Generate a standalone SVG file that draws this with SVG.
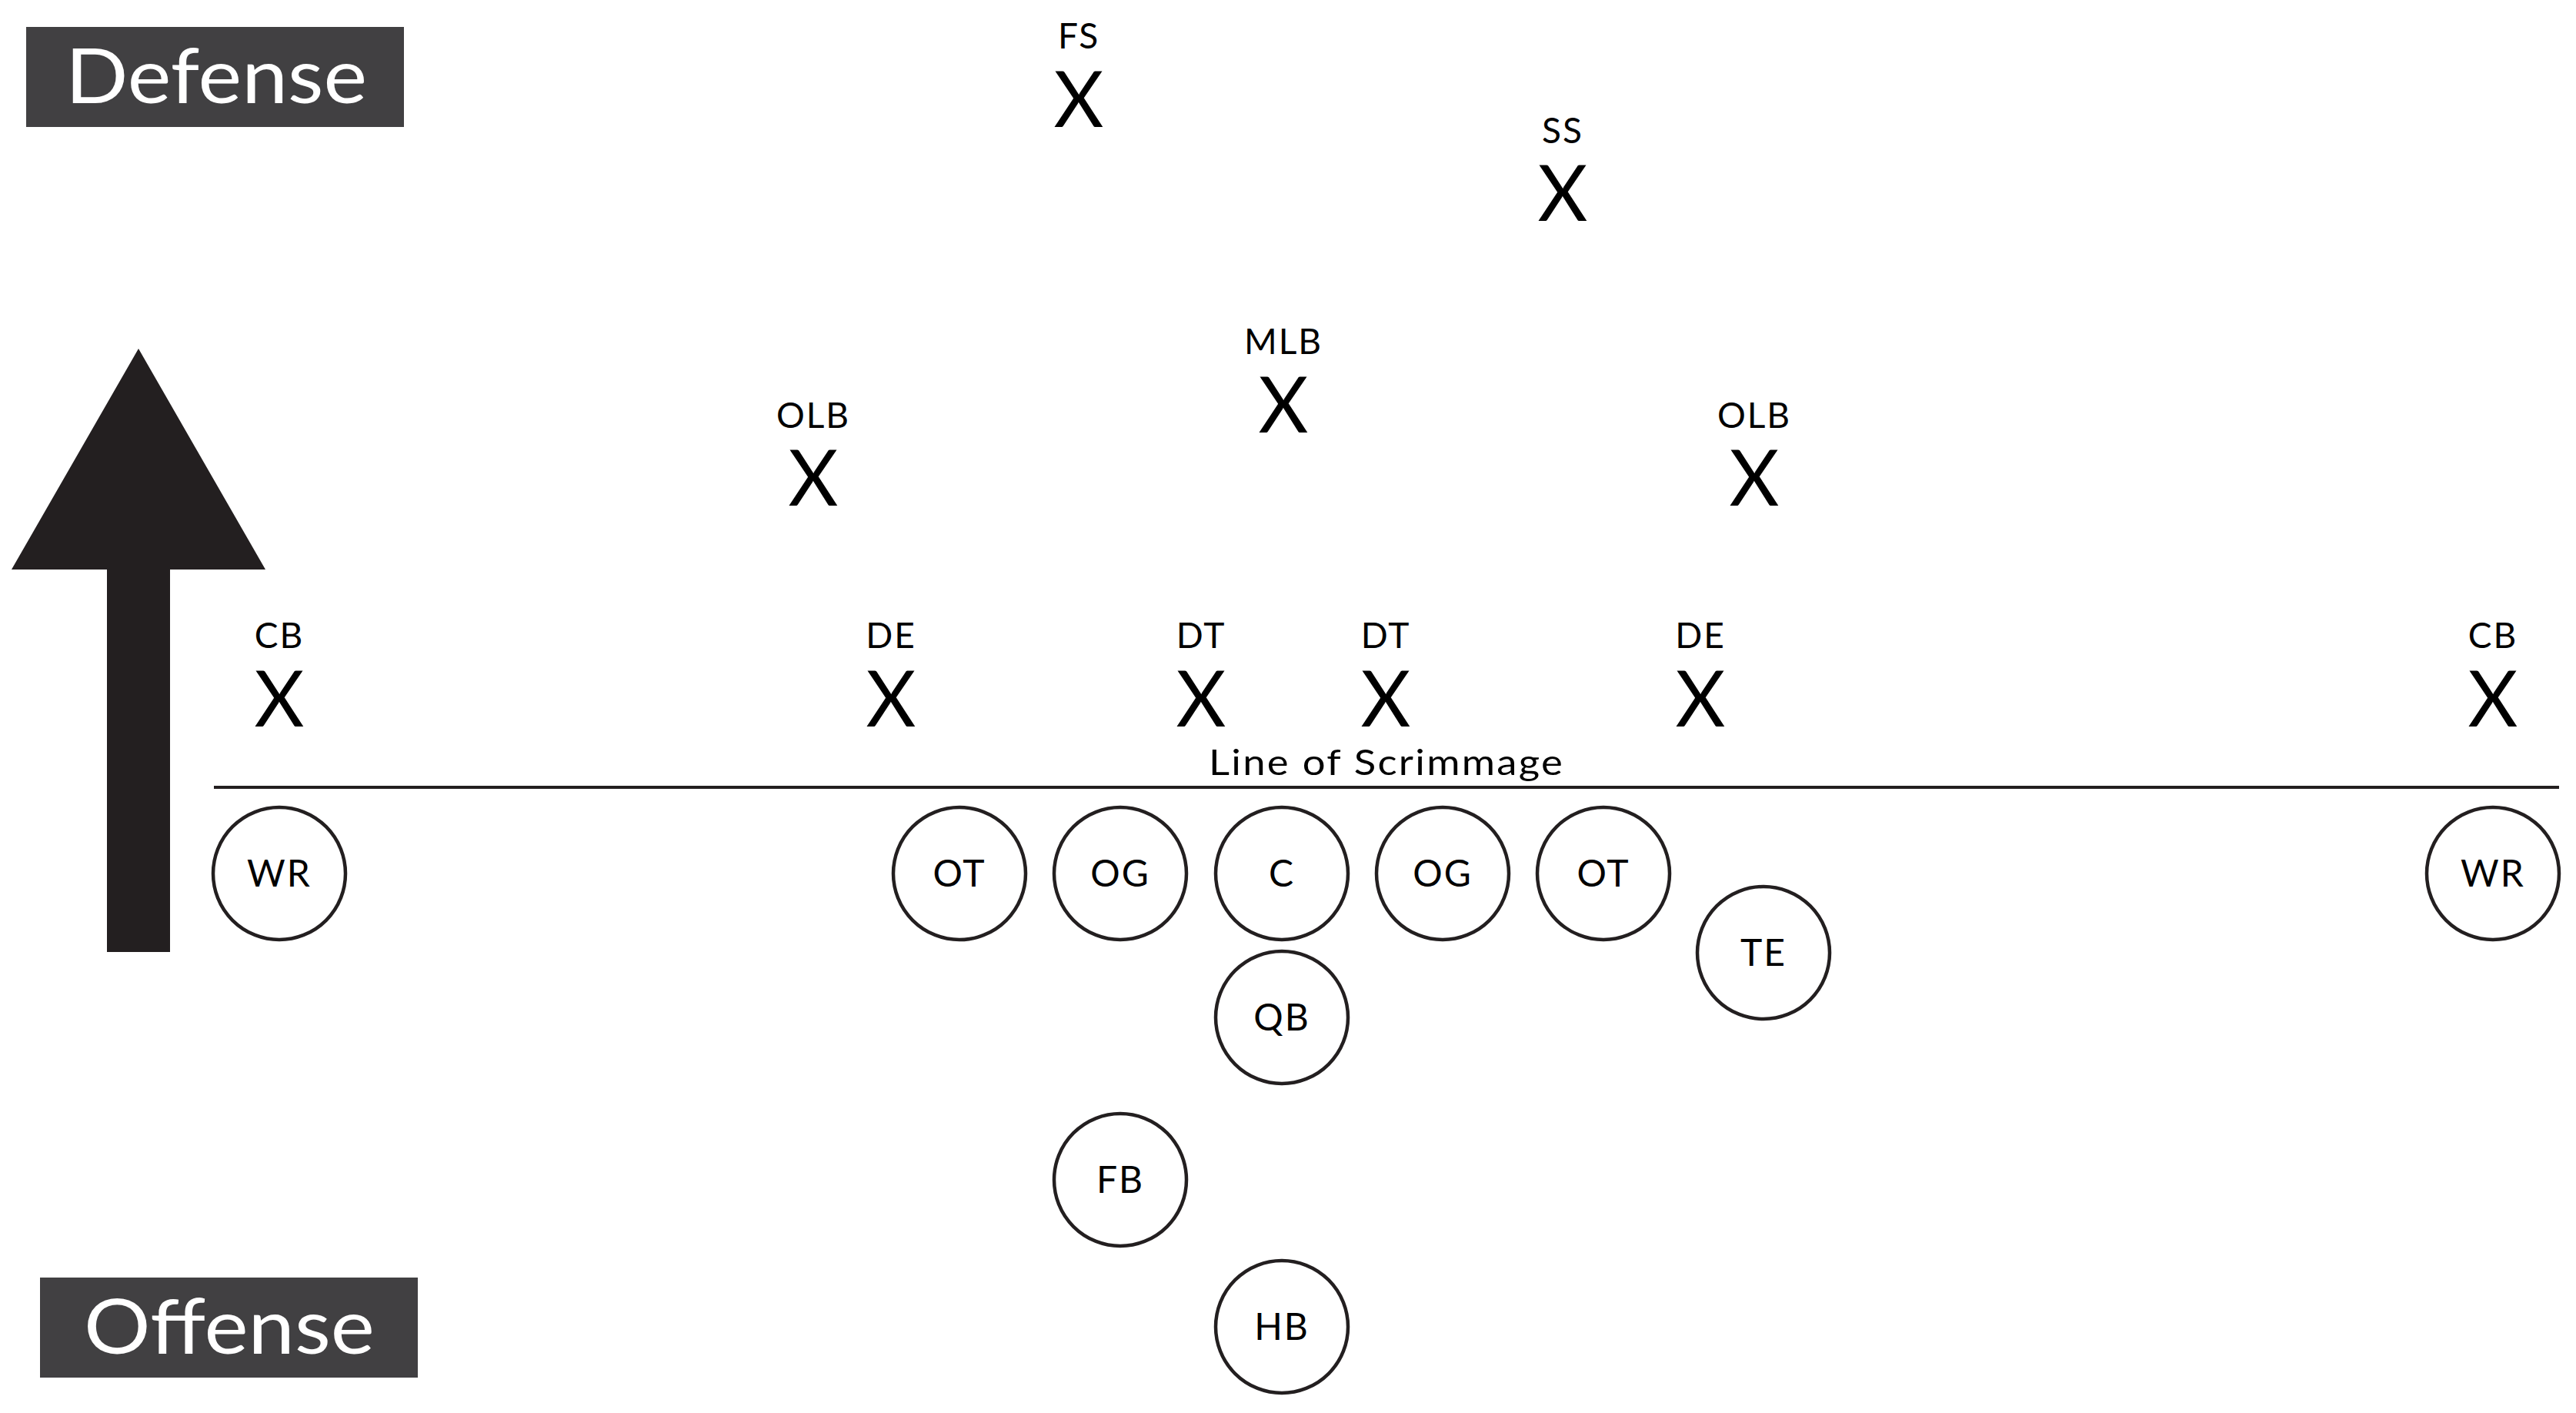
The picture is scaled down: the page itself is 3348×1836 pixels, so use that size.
<svg xmlns="http://www.w3.org/2000/svg" width="3348" height="1836" viewBox="0 0 3348 1836">
<style>
text{font-family:"Lato","Noto Sans","Liberation Sans",sans-serif;fill:#000}
.lbl{font-size:46px;text-anchor:middle;letter-spacing:2px}
.x{font-size:100px;font-weight:400;text-anchor:middle}
.pos{font-size:48px;text-anchor:middle;letter-spacing:2px}
.ring{fill:#fff;stroke:#231f20;stroke-width:4.5}
.tag{fill:#414042}
.tagt{font-size:99px;fill:#fff}
</style>
<rect width="3348" height="1836" fill="#fff"/>
<g id="defense-tag"><rect class="tag" x="34" y="35" width="491" height="130"/><text class="tagt" x="85" y="134" textLength="392" lengthAdjust="spacingAndGlyphs">Defense</text></g>
<g id="offense-tag"><rect class="tag" x="52" y="1660" width="491" height="130"/><text class="tagt" x="109" y="1759" textLength="378" lengthAdjust="spacingAndGlyphs">Offense</text></g>
<g id="connectors">
<polygon id="direction-arrow" points="180,453 345,740 221,740 221,1237 139,1237 139,740 15,740" fill="#231f20"/>
<line id="line-of-scrimmage" x1="278" y1="1023" x2="3326" y2="1023" stroke="#231f20" stroke-width="4"/>
<text class="lbl" x="1802" y="1007" textLength="462" lengthAdjust="spacingAndGlyphs">Line of Scrimmage</text>
</g>
<g id="def-fs"><text class="lbl" x="1402" y="63">FS</text><text class="x" x="1402" y="165">X</text></g>
<g id="def-ss"><text class="lbl" x="2031" y="186">SS</text><text class="x" x="2031" y="287">X</text></g>
<g id="def-mlb"><text class="lbl" x="1668" y="460">MLB</text><text class="x" x="1668" y="562">X</text></g>
<g id="def-olb-l"><text class="lbl" x="1057" y="556">OLB</text><text class="x" x="1057" y="657">X</text></g>
<g id="def-olb-r"><text class="lbl" x="2280" y="556">OLB</text><text class="x" x="2280" y="657">X</text></g>
<g id="def-cb-l"><text class="lbl" x="363" y="842">CB</text><text class="x" x="363" y="944">X</text></g>
<g id="def-de-l"><text class="lbl" x="1158" y="842">DE</text><text class="x" x="1158" y="944">X</text></g>
<g id="def-dt-l"><text class="lbl" x="1561" y="842">DT</text><text class="x" x="1561" y="944">X</text></g>
<g id="def-dt-r"><text class="lbl" x="1801" y="842">DT</text><text class="x" x="1801" y="944">X</text></g>
<g id="def-de-r"><text class="lbl" x="2210" y="842">DE</text><text class="x" x="2210" y="944">X</text></g>
<g id="def-cb-r"><text class="lbl" x="3240" y="842">CB</text><text class="x" x="3240" y="944">X</text></g>
<g id="off-wr-l"><circle class="ring" cx="363" cy="1135" r="86"/><text class="pos" x="363" y="1152">WR</text></g>
<g id="off-ot-l"><circle class="ring" cx="1247" cy="1135" r="86"/><text class="pos" x="1247" y="1152">OT</text></g>
<g id="off-og-l"><circle class="ring" cx="1456" cy="1135" r="86"/><text class="pos" x="1456" y="1152">OG</text></g>
<g id="off-c"><circle class="ring" cx="1666" cy="1135" r="86"/><text class="pos" x="1666" y="1152">C</text></g>
<g id="off-og-r"><circle class="ring" cx="1875" cy="1135" r="86"/><text class="pos" x="1875" y="1152">OG</text></g>
<g id="off-ot-r"><circle class="ring" cx="2084" cy="1135" r="86"/><text class="pos" x="2084" y="1152">OT</text></g>
<g id="off-te"><circle class="ring" cx="2292" cy="1238" r="86"/><text class="pos" x="2292" y="1255">TE</text></g>
<g id="off-wr-r"><circle class="ring" cx="3240" cy="1135" r="86"/><text class="pos" x="3240" y="1152">WR</text></g>
<g id="off-qb"><circle class="ring" cx="1666" cy="1322" r="86"/><text class="pos" x="1666" y="1339">QB</text></g>
<g id="off-fb"><circle class="ring" cx="1456" cy="1533" r="86"/><text class="pos" x="1456" y="1550">FB</text></g>
<g id="off-hb"><circle class="ring" cx="1666" cy="1724" r="86"/><text class="pos" x="1666" y="1741">HB</text></g>
</svg>
